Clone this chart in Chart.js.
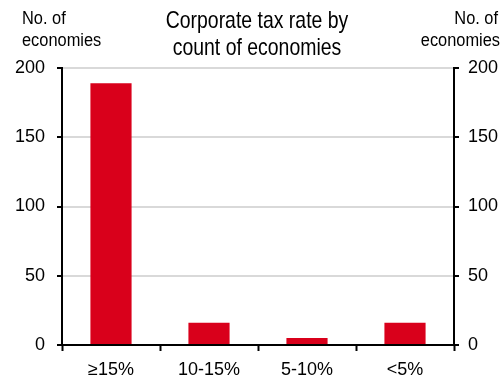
<!DOCTYPE html>
<html>
<head>
<meta charset="utf-8">
<script src="https://cdn.jsdelivr.net/npm/chart.js@4"></script>
<style>
  html, body { margin: 0; padding: 0; background: #fff; }
</style>
</head>
<body>
<canvas id="myChart" width="502" height="385"></canvas>
<script>
// chart data
const categories = ['≥15%', '10-15%', '5-10%', '<5%'];
const economyCounts = [189, 16, 5, 16];
const yTicks = [0, 50, 100, 150, 200];
const titleLines = ['Corporate tax rate by', 'count of economies'];
const axisTitle = ['No. of', 'economies'];

const FONT = "'Liberation Sans', Arial, sans-serif";
const RED = '#d9001b';
const GRID = '#d9d9d9';

var ctx = document.getElementById('myChart').getContext('2d');

// squeezed text, the original uses a narrow face
function narrowText(c, txt, x, y, sx) {
    c.save();
    c.translate(x, y);
    c.scale(sx, 1);
    c.fillText(txt, 0, 0);
    c.restore();
}

// draws the title and the two corner axis labels
const textPlugin = {
    id: 'cornerText',
    afterDraw(chart) {
        const c = chart.ctx;
        c.save();
        c.fillStyle = '#000';
        c.textBaseline = 'alphabetic';
        c.textAlign = 'center';
        c.font = '24px ' + FONT;
        narrowText(c, titleLines[0], 257, 28, 0.81);
        narrowText(c, titleLines[1], 257, 55, 0.81);
        c.font = '18px ' + FONT;
        c.textAlign = 'left';
        narrowText(c, axisTitle[0], 22, 24, 0.91);
        narrowText(c, axisTitle[1], 22, 46, 0.91);
        c.textAlign = 'right';
        narrowText(c, axisTitle[0], 498, 24, 0.91);
        narrowText(c, axisTitle[1], 500, 46, 0.91);
        c.restore();
    }
};

function yAxis(pos, width, pad) {
    return {
        type: 'linear',
        position: pos,
        min: 0,
        max: 200,
        afterBuildTicks: (s) => { s.ticks = yTicks.map(v => ({value: v})); },
        afterFit: (s) => { s.width = width; },
        border: {display: true, color: '#000', width: 2},
        grid: {
            drawOnChartArea: pos === 'left',
            color: (c) => c.tick && c.tick.value === 0 ? 'rgba(0,0,0,0)' : GRID,
            lineWidth: 2,
            tickColor: '#000',
            tickLength: 5,
            tickWidth: 2
        },
        ticks: {
            color: '#000',
            padding: pad,
            font: {family: FONT, size: 18}
        }
    };
}

new Chart(ctx, {
    type: 'bar',
    data: {
        labels: categories,
        datasets: [{
            data: economyCounts,
            backgroundColor: RED,
            borderWidth: 0,
            categoryPercentage: 0.42,
            barPercentage: 1,
            yAxisID: 'y'
        }]
    },
    options: {
        responsive: false,
        animation: false,
        devicePixelRatio: 1,
        layout: {padding: {top: 68, bottom: 0, left: 0, right: 0}},
        plugins: {legend: {display: false}, tooltip: {enabled: false}, title: {display: false}},
        scales: {
            x: {
                offset: true,
                afterFit: (s) => { s.height = 40; },
                border: {display: true, color: '#000', width: 2},
                grid: {
                    offset: true,
                    drawOnChartArea: false,
                    tickColor: '#000',
                    tickLength: 6,
                    tickWidth: 2
                },
                ticks: {
                    color: '#000',
                    padding: 8,
                    font: {family: FONT, size: 18}
                }
            },
            y: yAxis('left', 62, 12),
            y2: yAxis('right', 48, 9)
        }
    },
    plugins: [textPlugin]
});
</script>
</body>
</html>
